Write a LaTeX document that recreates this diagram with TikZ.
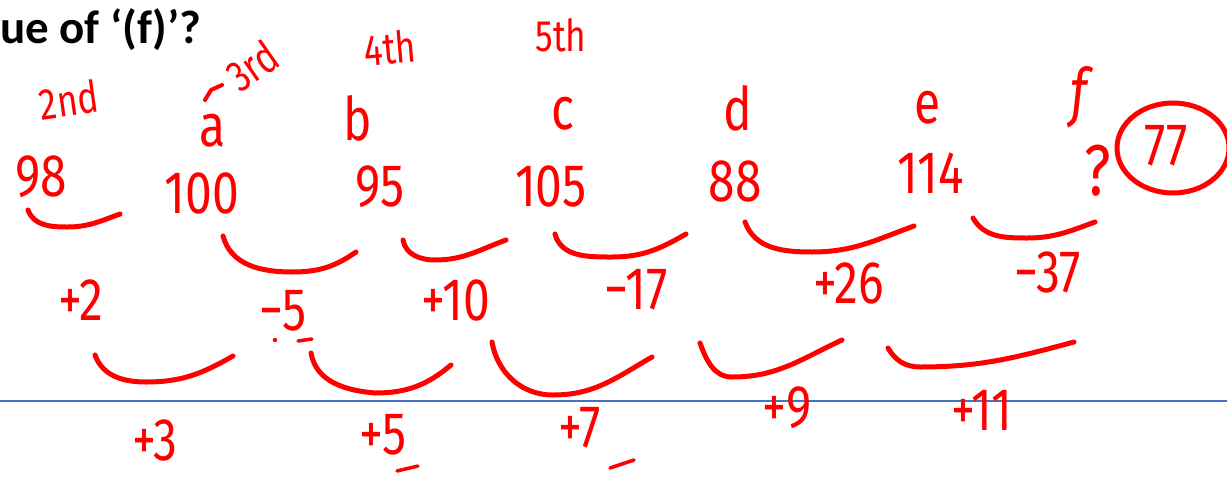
\documentclass[tikz,border=0pt]{standalone}
\usepackage{fontspec}
\setmainfont{Carlito}
\newfontfamily\hand[FakeStretch=0.8]{Fira Sans}
\definecolor{ink}{RGB}{255,0,0}
\definecolor{rule}{RGB}{68,114,196}
\begin{document}
\begin{tikzpicture}[x=1pt,y=-1pt,
  hw/.style={text=ink, font=\hand\fontsize{60}{64}\selectfont, inner sep=0pt},
  hws/.style={text=ink, font=\hand\fontsize{44}{48}\selectfont, inner sep=0pt},
  stroke/.style={draw=ink, line width=5pt, line cap=round, line join=round}]
\useasboundingbox (0,0) rectangle (1227,480);
\fill[white] (0,0) rectangle (1227,480);
% title
\node[anchor=base west, inner sep=0pt, font=\bfseries\fontsize{47}{50}\selectfont] (title) at (0,43) {ue of ‘(f)’?};
% blue rule
\coordinate (ruleL) at (0,401);
\coordinate (ruleR) at (1227,401);
\draw[rule, line width=2pt] (ruleL) -- (ruleR);
% ordinals
\node[hws, rotate=8] (o2) at (69,100) {2nd};
\node[hws, rotate=35] (o3) at (252,66) {3rd};
\draw[stroke, line width=4pt] (205,100) -- (211,90) -- (222,85);
\node[hws, rotate=5] (o4) at (390,48) {4th};
\node[hws] (o5) at (561,35) {5th};
% letters
\node[hw] (la) at (213,131) {a};
\node[hw] (lb) at (358,118) {b};
\node[hw] (lc) at (563,114) {c};
\node[hw] (ld) at (738,108) {d};
\node[hw] (le) at (928,108) {e};
\node[hw, font=\hand\itshape\fontsize{64}{68}\selectfont] (lf) at (1079,97) {f};
% numbers
\node[hw] (n98) at (41,177) {98};
\node[hw] (n100) at (202,193) {100};
\node[hw] (n95) at (380,187) {95};
\node[hw] (n105) at (551,186) {105};
\node[hw] (n88) at (735,181) {88};
\node[hw] (n114) at (931,173) {114};
\node[hw, font=\hand\fontsize{72}{76}\selectfont] (nq) at (1098,171) {?};
\node[hw] (n77) at (1166,146) {77};
\draw[stroke] (1173,148) ellipse [x radius=56, y radius=45];
% first differences arcs
\draw[stroke] (28,210) to[out=-70,in=180] (67,227) to[out=0,in=-160] (120,214);
\draw[stroke] (223,236) to[out=-75,in=180] (292,272) to[out=0,in=-145] (356,252);
\draw[stroke] (403,240) to[out=-80,in=180] (435,260) to[out=0,in=-160] (506,240);
\draw[stroke] (555,234) to[out=-75,in=180] (612,257) to[out=0,in=-150] (686,234);
\draw[stroke] (745,222) to[out=-70,in=180] (812,252) to[out=0,in=-160] (914,226);
\draw[stroke] (973,218) to[out=-60,in=180] (1027,238) to[out=0,in=-160] (1095,222);
% first differences
\node[hw] (d1) at (81,300) {+2};
\node[hw] (d2) at (283,311) {−5};
\node[hw] (d3) at (456,300) {+10};
\node[hw] (d4) at (636,290) {−17};
\node[hw] (d5) at (849,283) {+26};
\node[hw] (d6) at (1048,272) {−37};
\draw[stroke, line width=3.5pt] (298,341) -- (312,339);
\fill[ink] (275,340) circle (2.2);
% second differences arcs
\draw[stroke] (95,355) to[out=-70,in=180] (146,382) to[out=0,in=-150] (233,356);
\draw[stroke] (311,353) to[out=-80,in=175] (375,393) to[out=0,in=-140] (451,365);
\draw[stroke] (492,342) to[out=-80,in=180] (553,395) to[out=0,in=-150] (652,357);
\draw[stroke] (700,343) to[out=-70,in=180] (732,377) to[out=0,in=-155] (842,340);
\draw[stroke] (888,348) to[out=-60,in=180] (920,367) to[out=0,in=-165] (1074,342);
% second differences
\node[hw] (s1) at (155,440) {+3};
\node[hw] (s2) at (383,435) {+5};
\node[hw] (s3) at (580,428) {+7};
\node[hw] (s4) at (787,408) {+9};
\node[hw] (s5) at (982,410) {+11};
\draw[stroke, line width=3.5pt] (397,471) -- (418,466);
\draw[stroke, line width=3.5pt] (610,468) -- (634,460);
\end{tikzpicture}
\end{document}
